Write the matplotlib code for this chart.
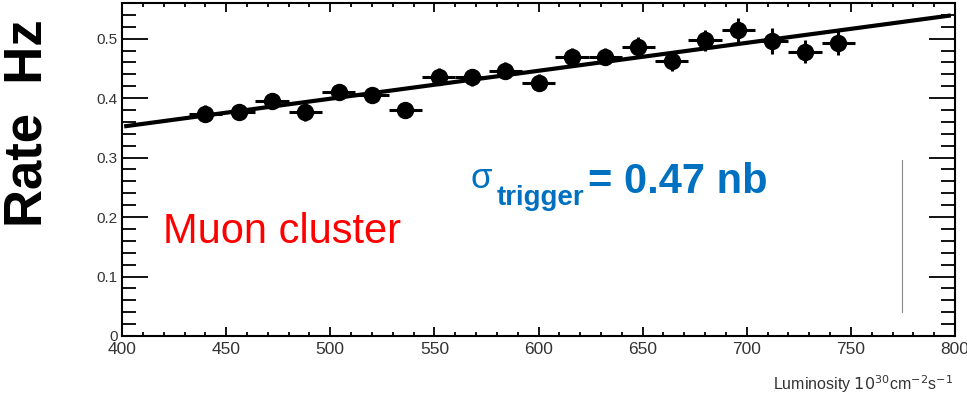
import numpy as np
import matplotlib
matplotlib.use("Agg")
import matplotlib.pyplot as plt
from matplotlib.ticker import MultipleLocator, FixedLocator, FixedFormatter

plt.rcParams['font.family'] = ['Liberation Sans', 'DejaVu Sans']

# luminosity bins (10^30 cm^-2 s^-1) and measured rate (Hz)
lumi = [440, 456, 472, 488, 504, 520, 536, 552, 568, 584,
        600, 616, 632, 648, 664, 680, 696, 712, 728, 744]
rate = [0.374, 0.377, 0.396, 0.376, 0.411, 0.405, 0.380, 0.436, 0.435, 0.446,
        0.426, 0.469, 0.470, 0.486, 0.462, 0.497, 0.514, 0.496, 0.478, 0.493]
rate_err = [0.014, 0.013, 0.013, 0.014, 0.013, 0.013, 0.013, 0.014, 0.014, 0.014,
            0.014, 0.015, 0.015, 0.016, 0.016, 0.017, 0.021, 0.022, 0.019, 0.020]
lumi_err = [8] * len(lumi)

# linear fit drawn on the plot
fit_x = [402, 797]
fit_slope = 0.00047
fit_offset = 0.164

# stray vertical line on the slide
stray_x = [774.5, 774.5]
stray_y = [0.04, 0.296]

ytick_vals = [0, 0.1, 0.2, 0.3, 0.4, 0.5]
ytick_labels = ['0', '0.1', '0.2', '0.3', '0.4', '0.5']
xtick_vals = [400, 450, 500, 550, 600, 650, 700, 750, 800]
xtick_labels = ['400', '450', '500', '550', '600', '650', '700', '750', '800']

fig = plt.figure(figsize=(9.67, 3.98), dpi=100)
ax = fig.add_axes([0.1262, 0.1558, 0.8614, 0.8367])

fit_y = [fit_slope * v + fit_offset for v in fit_x]
ax.plot(fit_x, fit_y, color='black', lw=3, zorder=2)

ax.errorbar(lumi, rate, xerr=lumi_err, yerr=rate_err, fmt='o', color='black',
            markersize=11.5, elinewidth=2.2, capsize=0, zorder=3)

ax.plot(stray_x, stray_y, color='#888888', lw=0.8)

ax.set_xlim(400, 800)
ax.set_ylim(0, 0.56)

ax.xaxis.set_major_locator(FixedLocator(xtick_vals))
ax.xaxis.set_major_formatter(FixedFormatter(xtick_labels))
ax.xaxis.set_minor_locator(MultipleLocator(10))
ax.yaxis.set_major_locator(FixedLocator(ytick_vals))
ax.yaxis.set_major_formatter(FixedFormatter(ytick_labels))
ax.yaxis.set_minor_locator(MultipleLocator(0.02))

ax.tick_params(axis='x', which='both', direction='in', top=True, bottom=True,
               width=1.3, labelsize=12.5, labelcolor='#333333', pad=4)
ax.tick_params(axis='x', which='major', length=6.5)
ax.tick_params(axis='x', which='minor', length=3)
ax.tick_params(axis='y', which='both', direction='in', left=True, right=True,
               width=1.3, labelsize=11, labelcolor='#333333', pad=3)
ax.tick_params(axis='y', which='major', length=19)
ax.tick_params(axis='y', which='minor', length=10)

for s in ax.spines.values():
    s.set_linewidth(1.5)

# texts placed in figure pixel fractions
W, H = 967.0, 398.0
fig.text(28 / W, 1 - 123 / H, 'Rate  Hz', rotation=90, fontsize=38,
         fontweight='bold', ha='center', va='center')
fig.text(163 / W, 1 - 243 / H, 'Muon cluster', fontsize=30, color='#ff0000',
         ha='left', va='baseline')
blue = '#0070c0'
fig.text(471 / W, 1 - 188 / H, '\u03c3', fontsize=25, color=blue,
         ha='left', va='baseline')
fig.text(497 / W, 1 - 205 / H, 'trigger', fontsize=20, fontweight='bold',
         color=blue, ha='left', va='baseline')
fig.text(588 / W, 1 - 193 / H, '= 0.47 nb', fontsize=30, fontweight='bold',
         color=blue, ha='left', va='baseline')

fig.text(953 / W, 1 - 390 / H,
         r'Luminosity $10^{30}$cm$^{-2}$s$^{-1}$', fontsize=11.5,
         color='#333333', ha='right', va='baseline')

fig.savefig('out.png', dpi=100)
